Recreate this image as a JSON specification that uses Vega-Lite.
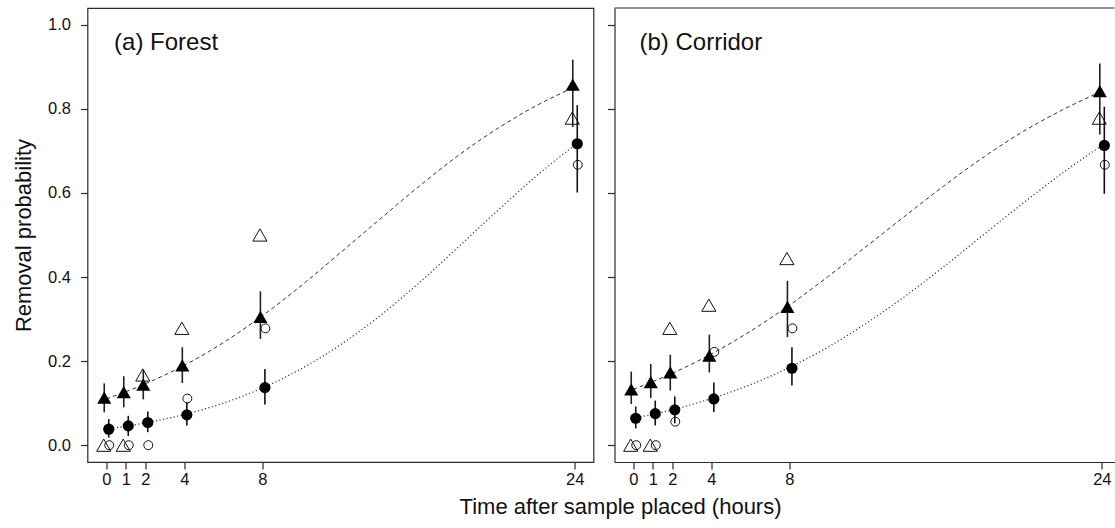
{
  "$schema": "https://vega.github.io/schema/vega-lite/v6.json",
  "background": "white",
  "padding": {"left": 11.5, "top": 7, "right": 0, "bottom": 0},
  "autosize": {"type": "pad"},
  "spacing": 12,
  "title": {"text": "Time after sample placed (hours)", "orient": "bottom", "anchor": "middle", "fontSize": 22, "fontWeight": "normal", "font": "Liberation Sans", "color": "#111", "offset": 9, "dx": 57},
  "config": {
    "font": "Liberation Sans",
    "view": {"stroke": "#2a2a2a", "strokeWidth": 1.2},
    "axis": {"grid": false, "domain": false, "domainColor": "#2a2a2a", "domainWidth": 1.2, "tickColor": "#2a2a2a", "tickWidth": 1.2, "tickSize": 7, "labelFont": "Liberation Sans", "labelFontSize": 16.5, "labelColor": "#111", "titleFont": "Liberation Sans", "titleFontSize": 22, "titleFontWeight": "normal", "titleColor": "#111", "labelFlush": false, "labelOverlap": false},
    "axisY": {"labelPadding": 10, "titlePadding": 12, "labelAngle": 0},
    "axisX": {"labelPadding": 2}
  },
  "datasets": {
    "pts": [
      {"panel": "Forest", "hours": 0, "symbol": "triangle", "kind": "model", "p": 0.113, "lo": 0.078, "hi": 0.147},
      {"panel": "Forest", "hours": 1, "symbol": "triangle", "kind": "model", "p": 0.126, "lo": 0.090, "hi": 0.164},
      {"panel": "Forest", "hours": 2, "symbol": "triangle", "kind": "model", "p": 0.144, "lo": 0.109, "hi": 0.179},
      {"panel": "Forest", "hours": 4, "symbol": "triangle", "kind": "model", "p": 0.190, "lo": 0.148, "hi": 0.233},
      {"panel": "Forest", "hours": 8, "symbol": "triangle", "kind": "model", "p": 0.305, "lo": 0.253, "hi": 0.366},
      {"panel": "Forest", "hours": 24, "symbol": "triangle", "kind": "model", "p": 0.858, "lo": 0.757, "hi": 0.917},
      {"panel": "Forest", "hours": 0, "symbol": "circle", "kind": "model", "p": 0.038, "lo": 0.018, "hi": 0.062},
      {"panel": "Forest", "hours": 1, "symbol": "circle", "kind": "model", "p": 0.046, "lo": 0.022, "hi": 0.070},
      {"panel": "Forest", "hours": 2, "symbol": "circle", "kind": "model", "p": 0.054, "lo": 0.031, "hi": 0.080},
      {"panel": "Forest", "hours": 4, "symbol": "circle", "kind": "model", "p": 0.072, "lo": 0.047, "hi": 0.102},
      {"panel": "Forest", "hours": 8, "symbol": "circle", "kind": "model", "p": 0.137, "lo": 0.097, "hi": 0.181},
      {"panel": "Forest", "hours": 24, "symbol": "circle", "kind": "model", "p": 0.717, "lo": 0.601, "hi": 0.809},
      {"panel": "Forest", "hours": 0, "symbol": "triangle", "kind": "observed", "p": 0},
      {"panel": "Forest", "hours": 1, "symbol": "triangle", "kind": "observed", "p": 0},
      {"panel": "Forest", "hours": 2, "symbol": "triangle", "kind": "observed", "p": 0.167},
      {"panel": "Forest", "hours": 4, "symbol": "triangle", "kind": "observed", "p": 0.278},
      {"panel": "Forest", "hours": 8, "symbol": "triangle", "kind": "observed", "p": 0.5},
      {"panel": "Forest", "hours": 24, "symbol": "triangle", "kind": "observed", "p": 0.778},
      {"panel": "Forest", "hours": 0, "symbol": "circle", "kind": "observed", "p": 0},
      {"panel": "Forest", "hours": 1, "symbol": "circle", "kind": "observed", "p": 0},
      {"panel": "Forest", "hours": 2, "symbol": "circle", "kind": "observed", "p": 0},
      {"panel": "Forest", "hours": 4, "symbol": "circle", "kind": "observed", "p": 0.111},
      {"panel": "Forest", "hours": 8, "symbol": "circle", "kind": "observed", "p": 0.278},
      {"panel": "Forest", "hours": 24, "symbol": "circle", "kind": "observed", "p": 0.667},
      {"panel": "Corridor", "hours": 0, "symbol": "triangle", "kind": "model", "p": 0.133, "lo": 0.098, "hi": 0.175},
      {"panel": "Corridor", "hours": 1, "symbol": "triangle", "kind": "model", "p": 0.150, "lo": 0.112, "hi": 0.193},
      {"panel": "Corridor", "hours": 2, "symbol": "triangle", "kind": "model", "p": 0.173, "lo": 0.130, "hi": 0.215},
      {"panel": "Corridor", "hours": 4, "symbol": "triangle", "kind": "model", "p": 0.213, "lo": 0.173, "hi": 0.263},
      {"panel": "Corridor", "hours": 8, "symbol": "triangle", "kind": "model", "p": 0.329, "lo": 0.257, "hi": 0.391},
      {"panel": "Corridor", "hours": 24, "symbol": "triangle", "kind": "model", "p": 0.842, "lo": 0.739, "hi": 0.908},
      {"panel": "Corridor", "hours": 0, "symbol": "circle", "kind": "model", "p": 0.064, "lo": 0.040, "hi": 0.092},
      {"panel": "Corridor", "hours": 1, "symbol": "circle", "kind": "model", "p": 0.075, "lo": 0.047, "hi": 0.106},
      {"panel": "Corridor", "hours": 2, "symbol": "circle", "kind": "model", "p": 0.084, "lo": 0.052, "hi": 0.116},
      {"panel": "Corridor", "hours": 4, "symbol": "circle", "kind": "model", "p": 0.110, "lo": 0.079, "hi": 0.149},
      {"panel": "Corridor", "hours": 8, "symbol": "circle", "kind": "model", "p": 0.183, "lo": 0.142, "hi": 0.233},
      {"panel": "Corridor", "hours": 24, "symbol": "circle", "kind": "model", "p": 0.713, "lo": 0.598, "hi": 0.805},
      {"panel": "Corridor", "hours": 0, "symbol": "triangle", "kind": "observed", "p": 0},
      {"panel": "Corridor", "hours": 1, "symbol": "triangle", "kind": "observed", "p": 0},
      {"panel": "Corridor", "hours": 2, "symbol": "triangle", "kind": "observed", "p": 0.278},
      {"panel": "Corridor", "hours": 4, "symbol": "triangle", "kind": "observed", "p": 0.333},
      {"panel": "Corridor", "hours": 8, "symbol": "triangle", "kind": "observed", "p": 0.444},
      {"panel": "Corridor", "hours": 24, "symbol": "triangle", "kind": "observed", "p": 0.778},
      {"panel": "Corridor", "hours": 0, "symbol": "circle", "kind": "observed", "p": 0},
      {"panel": "Corridor", "hours": 1, "symbol": "circle", "kind": "observed", "p": 0},
      {"panel": "Corridor", "hours": 2, "symbol": "circle", "kind": "observed", "p": 0.056},
      {"panel": "Corridor", "hours": 4, "symbol": "circle", "kind": "observed", "p": 0.222},
      {"panel": "Corridor", "hours": 8, "symbol": "circle", "kind": "observed", "p": 0.278},
      {"panel": "Corridor", "hours": 24, "symbol": "circle", "kind": "observed", "p": 0.667}
    ],
    "curves": [
      {"panel": "Forest", "symbol": "triangle", "hours": 0, "p": 0.110},
      {"panel": "Forest", "symbol": "triangle", "hours": 2, "p": 0.146},
      {"panel": "Forest", "symbol": "triangle", "hours": 4, "p": 0.190},
      {"panel": "Forest", "symbol": "triangle", "hours": 6, "p": 0.244},
      {"panel": "Forest", "symbol": "triangle", "hours": 8, "p": 0.308},
      {"panel": "Forest", "symbol": "triangle", "hours": 10, "p": 0.380},
      {"panel": "Forest", "symbol": "triangle", "hours": 12, "p": 0.458},
      {"panel": "Forest", "symbol": "triangle", "hours": 14, "p": 0.537},
      {"panel": "Forest", "symbol": "triangle", "hours": 16, "p": 0.615},
      {"panel": "Forest", "symbol": "triangle", "hours": 18, "p": 0.688},
      {"panel": "Forest", "symbol": "triangle", "hours": 20, "p": 0.752},
      {"panel": "Forest", "symbol": "triangle", "hours": 22, "p": 0.807},
      {"panel": "Forest", "symbol": "triangle", "hours": 24, "p": 0.852},
      {"panel": "Forest", "symbol": "circle", "hours": 0, "p": 0.038},
      {"panel": "Forest", "symbol": "circle", "hours": 2, "p": 0.053},
      {"panel": "Forest", "symbol": "circle", "hours": 4, "p": 0.073},
      {"panel": "Forest", "symbol": "circle", "hours": 6, "p": 0.100},
      {"panel": "Forest", "symbol": "circle", "hours": 8, "p": 0.136},
      {"panel": "Forest", "symbol": "circle", "hours": 10, "p": 0.182},
      {"panel": "Forest", "symbol": "circle", "hours": 12, "p": 0.239},
      {"panel": "Forest", "symbol": "circle", "hours": 14, "p": 0.307},
      {"panel": "Forest", "symbol": "circle", "hours": 16, "p": 0.385},
      {"panel": "Forest", "symbol": "circle", "hours": 18, "p": 0.470},
      {"panel": "Forest", "symbol": "circle", "hours": 20, "p": 0.556},
      {"panel": "Forest", "symbol": "circle", "hours": 22, "p": 0.639},
      {"panel": "Forest", "symbol": "circle", "hours": 24, "p": 0.714},
      {"panel": "Corridor", "symbol": "triangle", "hours": 0, "p": 0.133},
      {"panel": "Corridor", "symbol": "triangle", "hours": 2, "p": 0.171},
      {"panel": "Corridor", "symbol": "triangle", "hours": 4, "p": 0.217},
      {"panel": "Corridor", "symbol": "triangle", "hours": 6, "p": 0.271},
      {"panel": "Corridor", "symbol": "triangle", "hours": 8, "p": 0.333},
      {"panel": "Corridor", "symbol": "triangle", "hours": 10, "p": 0.402},
      {"panel": "Corridor", "symbol": "triangle", "hours": 12, "p": 0.475},
      {"panel": "Corridor", "symbol": "triangle", "hours": 14, "p": 0.548},
      {"panel": "Corridor", "symbol": "triangle", "hours": 16, "p": 0.620},
      {"panel": "Corridor", "symbol": "triangle", "hours": 18, "p": 0.687},
      {"panel": "Corridor", "symbol": "triangle", "hours": 20, "p": 0.747},
      {"panel": "Corridor", "symbol": "triangle", "hours": 22, "p": 0.798},
      {"panel": "Corridor", "symbol": "triangle", "hours": 24, "p": 0.842},
      {"panel": "Corridor", "symbol": "circle", "hours": 0, "p": 0.064},
      {"panel": "Corridor", "symbol": "circle", "hours": 2, "p": 0.084},
      {"panel": "Corridor", "symbol": "circle", "hours": 4, "p": 0.111},
      {"panel": "Corridor", "symbol": "circle", "hours": 6, "p": 0.144},
      {"panel": "Corridor", "symbol": "circle", "hours": 8, "p": 0.185},
      {"panel": "Corridor", "symbol": "circle", "hours": 10, "p": 0.234},
      {"panel": "Corridor", "symbol": "circle", "hours": 12, "p": 0.292},
      {"panel": "Corridor", "symbol": "circle", "hours": 14, "p": 0.357},
      {"panel": "Corridor", "symbol": "circle", "hours": 16, "p": 0.428},
      {"panel": "Corridor", "symbol": "circle", "hours": 18, "p": 0.503},
      {"panel": "Corridor", "symbol": "circle", "hours": 20, "p": 0.577},
      {"panel": "Corridor", "symbol": "circle", "hours": 22, "p": 0.648},
      {"panel": "Corridor", "symbol": "circle", "hours": 24, "p": 0.713}
    ]
  },
  "hconcat": [
    {
      "width": 506,
      "height": 454,
      "layer": [
        {
          "encoding": {
            "x": {"field": "hours", "type": "quantitative", "scale": {"domain": [-0.96, 24.96], "nice": false, "zero": false}, "axis": {"values": [0, 1, 2, 4, 8, 24], "title": null}},
            "y": {"field": "p", "type": "quantitative", "scale": {"domain": [-0.04, 1.04], "nice": false, "zero": false}, "axis": {"values": [0, 0.2, 0.4, 0.6, 0.8, 1], "format": ".1f", "title": "Removal probability"}}
          },
          "layer": [
            {"data": {"name": "curves"}, "transform": [{"filter": "datum.panel === 'Forest' && datum.symbol === 'triangle'"}], "mark": {"type": "line", "interpolate": "monotone", "strokeDash": [4, 3], "color": "#333", "strokeWidth": 1}},
            {"data": {"name": "curves"}, "transform": [{"filter": "datum.panel === 'Forest' && datum.symbol === 'circle'"}], "mark": {"type": "line", "interpolate": "monotone", "strokeDash": [1.2, 2.4], "color": "#333", "strokeWidth": 1.2}},
            {"data": {"name": "pts"}, "transform": [{"filter": "datum.panel === 'Forest' && datum.kind === 'model' && datum.symbol === 'triangle'"}], "mark": {"type": "rule", "xOffset": -2, "color": "#222", "strokeWidth": 1.6},
             "encoding": {"y": {"field": "lo", "type": "quantitative", "scale": {"domain": [-0.04, 1.04], "nice": false, "zero": false}, "axis": {"values": [0, 0.2, 0.4, 0.6, 0.8, 1], "format": ".1f", "title": "Removal probability"}}, "y2": {"field": "hi"}}},
            {"data": {"name": "pts"}, "transform": [{"filter": "datum.panel === 'Forest' && datum.kind === 'model' && datum.symbol === 'circle'"}], "mark": {"type": "rule", "xOffset": 2.5, "color": "#111", "strokeWidth": 1.6},
             "encoding": {"y": {"field": "lo", "type": "quantitative", "scale": {"domain": [-0.04, 1.04], "nice": false, "zero": false}, "axis": {"values": [0, 0.2, 0.4, 0.6, 0.8, 1], "format": ".1f", "title": "Removal probability"}}, "y2": {"field": "hi"}}},
            {"data": {"name": "pts"}, "transform": [{"filter": "datum.panel === 'Forest' && datum.kind === 'observed' && datum.symbol === 'triangle'"}], "mark": {"type": "point", "shape": "triangle-up", "filled": false, "xOffset": -2.5, "size": 200, "stroke": "#111", "strokeWidth": 1, "opacity": 1}},
            {"data": {"name": "pts"}, "transform": [{"filter": "datum.panel === 'Forest' && datum.kind === 'observed' && datum.symbol === 'circle'"}], "mark": {"type": "point", "shape": "circle", "filled": false, "xOffset": 3, "size": 80, "stroke": "#111", "strokeWidth": 1, "opacity": 1}},
            {"data": {"name": "pts"}, "transform": [{"filter": "datum.panel === 'Forest' && datum.kind === 'model' && datum.symbol === 'triangle'"}], "mark": {"type": "point", "shape": "triangle-up", "filled": true, "xOffset": -2, "size": 200, "color": "#000", "opacity": 1}},
            {"data": {"name": "pts"}, "transform": [{"filter": "datum.panel === 'Forest' && datum.kind === 'model' && datum.symbol === 'circle'"}], "mark": {"type": "point", "shape": "circle", "filled": true, "xOffset": 2.5, "size": 125, "color": "#000", "opacity": 1}}
          ]
        },
        {"data": {"values": [{"label": "(a) Forest"}]}, "mark": {"type": "text", "align": "left", "baseline": "alphabetic", "fontSize": 24, "font": "Liberation Sans", "fill": "#111"},
         "encoding": {"x": {"datum": 0.4, "type": "quantitative"}, "y": {"datum": 0.94, "type": "quantitative"}, "text": {"field": "label", "type": "nominal"}}}
      ]
    },
    {
      "width": 500,
      "height": 454,
      "view": {"stroke": null},
      "layer": [
        {
          "encoding": {
            "x": {"field": "hours", "type": "quantitative", "scale": {"domain": [-0.96, 24.65], "nice": false, "zero": false}, "axis": {"values": [0, 1, 2, 4, 8, 24], "title": null, "domain": true}},
            "y": {"field": "p", "type": "quantitative", "scale": {"domain": [-0.04, 1.04], "nice": false, "zero": false}, "axis": {"values": [0, 0.2, 0.4, 0.6, 0.8, 1], "labels": false, "title": null, "domain": true}}
          },
          "layer": [
            {"data": {"name": "curves"}, "transform": [{"filter": "datum.panel === 'Corridor' && datum.symbol === 'triangle'"}], "mark": {"type": "line", "interpolate": "monotone", "strokeDash": [4, 3], "color": "#333", "strokeWidth": 1}},
            {"data": {"name": "curves"}, "transform": [{"filter": "datum.panel === 'Corridor' && datum.symbol === 'circle'"}], "mark": {"type": "line", "interpolate": "monotone", "strokeDash": [1.2, 2.4], "color": "#333", "strokeWidth": 1.2}},
            {"data": {"name": "pts"}, "transform": [{"filter": "datum.panel === 'Corridor' && datum.kind === 'model' && datum.symbol === 'triangle'"}], "mark": {"type": "rule", "xOffset": -2, "color": "#222", "strokeWidth": 1.6},
             "encoding": {"y": {"field": "lo", "type": "quantitative", "scale": {"domain": [-0.04, 1.04], "nice": false, "zero": false}, "axis": {"values": [0, 0.2, 0.4, 0.6, 0.8, 1], "labels": false, "title": null, "domain": true}}, "y2": {"field": "hi"}}},
            {"data": {"name": "pts"}, "transform": [{"filter": "datum.panel === 'Corridor' && datum.kind === 'model' && datum.symbol === 'circle'"}], "mark": {"type": "rule", "xOffset": 2.5, "color": "#111", "strokeWidth": 1.6},
             "encoding": {"y": {"field": "lo", "type": "quantitative", "scale": {"domain": [-0.04, 1.04], "nice": false, "zero": false}, "axis": {"values": [0, 0.2, 0.4, 0.6, 0.8, 1], "labels": false, "title": null, "domain": true}}, "y2": {"field": "hi"}}},
            {"data": {"name": "pts"}, "transform": [{"filter": "datum.panel === 'Corridor' && datum.kind === 'observed' && datum.symbol === 'triangle'"}], "mark": {"type": "point", "shape": "triangle-up", "filled": false, "xOffset": -2.5, "size": 200, "stroke": "#111", "strokeWidth": 1, "opacity": 1}},
            {"data": {"name": "pts"}, "transform": [{"filter": "datum.panel === 'Corridor' && datum.kind === 'observed' && datum.symbol === 'circle'"}], "mark": {"type": "point", "shape": "circle", "filled": false, "xOffset": 3, "size": 80, "stroke": "#111", "strokeWidth": 1, "opacity": 1}},
            {"data": {"name": "pts"}, "transform": [{"filter": "datum.panel === 'Corridor' && datum.kind === 'model' && datum.symbol === 'triangle'"}], "mark": {"type": "point", "shape": "triangle-up", "filled": true, "xOffset": -2, "size": 200, "color": "#000", "opacity": 1}},
            {"data": {"name": "pts"}, "transform": [{"filter": "datum.panel === 'Corridor' && datum.kind === 'model' && datum.symbol === 'circle'"}], "mark": {"type": "point", "shape": "circle", "filled": true, "xOffset": 2.5, "size": 125, "color": "#000", "opacity": 1}}
          ]
        },
        {"data": {"values": [{"label": "(b) Corridor"}]}, "mark": {"type": "text", "align": "left", "baseline": "alphabetic", "fontSize": 24, "font": "Liberation Sans", "fill": "#111"},
         "encoding": {"x": {"datum": 0.32, "type": "quantitative"}, "y": {"datum": 0.94, "type": "quantitative"}, "text": {"field": "label", "type": "nominal"}}},
        {"data": {"values": [{"edge": "top"}]}, "mark": {"type": "rule", "color": "#2a2a2a", "strokeWidth": 1.2},
         "encoding": {"y": {"datum": 1.04, "type": "quantitative"}}}
      ]
    }
  ]
}
